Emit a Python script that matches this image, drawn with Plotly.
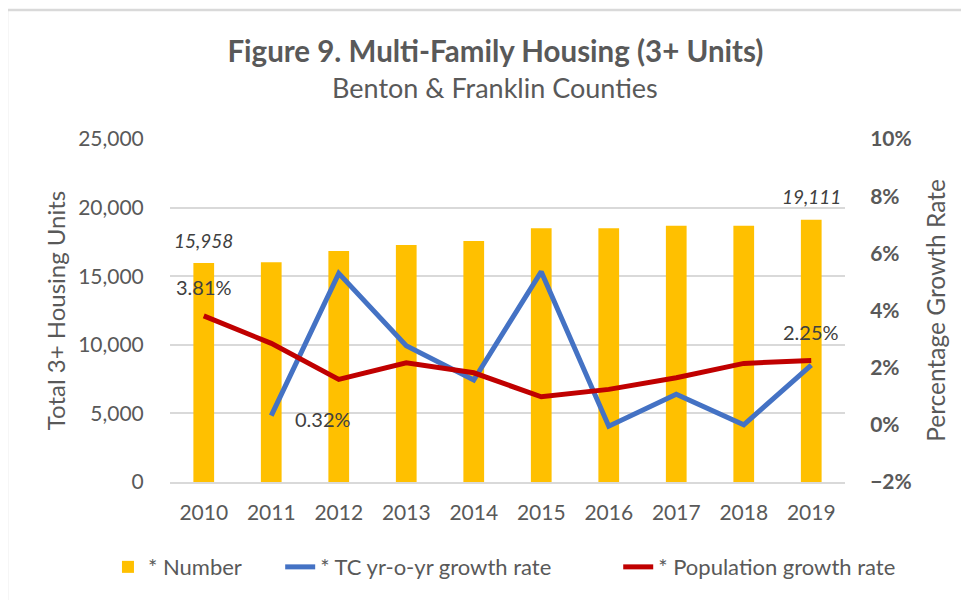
import plotly.graph_objects as go

years = ["2010", "2011", "2012", "2013", "2014", "2015", "2016", "2017", "2018", "2019"]
number = [15958, 16010, 16840, 17270, 17560, 18490, 18490, 18680, 18680, 19111]
tc_growth = [None, 0.0032, 0.053, 0.0277, 0.0157, 0.0536, -0.0005, 0.0107, 0.0, 0.0209]
pop_growth = [0.0381, 0.0285, 0.0159, 0.0217, 0.0182, 0.0098, 0.0124, 0.0165, 0.0215, 0.0225]

FONT = "Lato"
GREY = "#595959"
DARK = "#404040"

fig = go.Figure()
fig.add_trace(go.Bar(x=years, y=number, name="* Number" + "&nbsp;" * 6, marker_color="#FFC000",
                     marker_line_width=0))
fig.add_trace(go.Scatter(x=years, y=tc_growth, name="* TC yr-o-yr growth rate" + "&nbsp;" * 11,
                         mode="lines", line=dict(color="#4472C4", width=5), yaxis="y2"))
fig.add_trace(go.Scatter(x=years, y=pop_growth, name="* Population growth rate", mode="lines",
                         line=dict(color="#C00000", width=5), yaxis="y2"))

first, second, last = 0, 1, len(years) - 1  # category indices
anns = []
lab_font = dict(family=FONT, size=20, color=DARK)
ital = dict(family=FONT, size=19, color=DARK, style="italic")
anns.append(dict(x=first, y=number[first], xref="x", yref="y", text=f"{number[first]:,}",
                 showarrow=False, yshift=23, font=ital))
anns.append(dict(x=last, y=number[last], xref="x", yref="y", text=f"{number[last]:,}",
                 showarrow=False, yshift=23, font=ital))
anns.append(dict(x=first, y=pop_growth[first], xref="x", yref="y2", text=f"{pop_growth[first]*100:.2f}%",
                 showarrow=False, yshift=29, font=lab_font))
anns.append(dict(x=second, y=tc_growth[second], xref="x", yref="y2", text=f"{tc_growth[second]*100:.2f}%",
                 showarrow=False, xshift=52, yshift=-3, font=lab_font))
anns.append(dict(x=last, y=pop_growth[last], xref="x", yref="y2", text=f"{pop_growth[last]*100:.2f}%",
                 showarrow=False, yshift=29, font=lab_font))
anns.append(dict(x=0.482, y=1.1487, xref="paper", yref="paper", xanchor="center", yanchor="middle",
                 text="Benton &amp; Franklin Counties", showarrow=False,
                 font=dict(family=FONT, size=27, color=GREY)))

fig.update_layout(
    width=969, height=600,
    margin=dict(l=162, r=132, t=131, b=126),
    paper_bgcolor="white", plot_bgcolor="white",
    font=dict(family=FONT, color=GREY, size=21),
    title=dict(
        text="<b>Figure 9. Multi-Family Housing (3+ Units)</b>",
        x=0.503, xanchor="center", xref="container", y=1 - 44 / 600, yanchor="middle", yref="container",
        font=dict(family=FONT, size=29.5, color=GREY)),
    bargap=0.693,
    xaxis=dict(type="category", range=[-0.5, 9.5], showgrid=False, showline=True,
               linecolor="#D9D9D9", linewidth=2, automargin=False,
               ticks="outside", ticklen=11, tickcolor="rgba(0,0,0,0)",
               tickfont=dict(size=21, color=GREY)),
    yaxis=dict(range=[0, 25000], dtick=5000, tickformat=",", gridcolor="#D9D9D9", gridwidth=2,
               zeroline=False, showline=False, tickfont=dict(size=21, color=GREY), automargin=False,
               ticks="outside", ticklen=21, tickcolor="rgba(0,0,0,0)",
               title=dict(text="Total 3+ Housing Units", font=dict(size=24, color=GREY), standoff=5)),
    yaxis2=dict(range=[-0.02, 0.10], dtick=0.02, tickformat=".0%", overlaying="y", side="right",
                showgrid=False, zeroline=False, showline=False, automargin=False,
                tickfont=dict(size=21, color=GREY, weight="bold"),
                ticks="outside", ticklen=20, tickcolor="rgba(0,0,0,0)",
                title=dict(text="Percentage Growth Rate", font=dict(size=24.5, color=GREY), standoff=17)),
    legend=dict(orientation="h", x=-0.0919, xanchor="left", y=-0.248, yanchor="middle",
                font=dict(size=22, color=GREY), traceorder="normal"),
    annotations=anns,
    shapes=[dict(type="rect", xref="paper", yref="paper",
                 x0=(-1 - 162) / 675, x1=(990 - 162) / 675,
                 y0=(474 - 620) / 343, y1=(474 - 2) / 343,
                 line=dict(color="#D9D9D9", width=2.5), fillcolor="rgba(0,0,0,0)", layer="below")],
)

fig.write_html("out.html")
